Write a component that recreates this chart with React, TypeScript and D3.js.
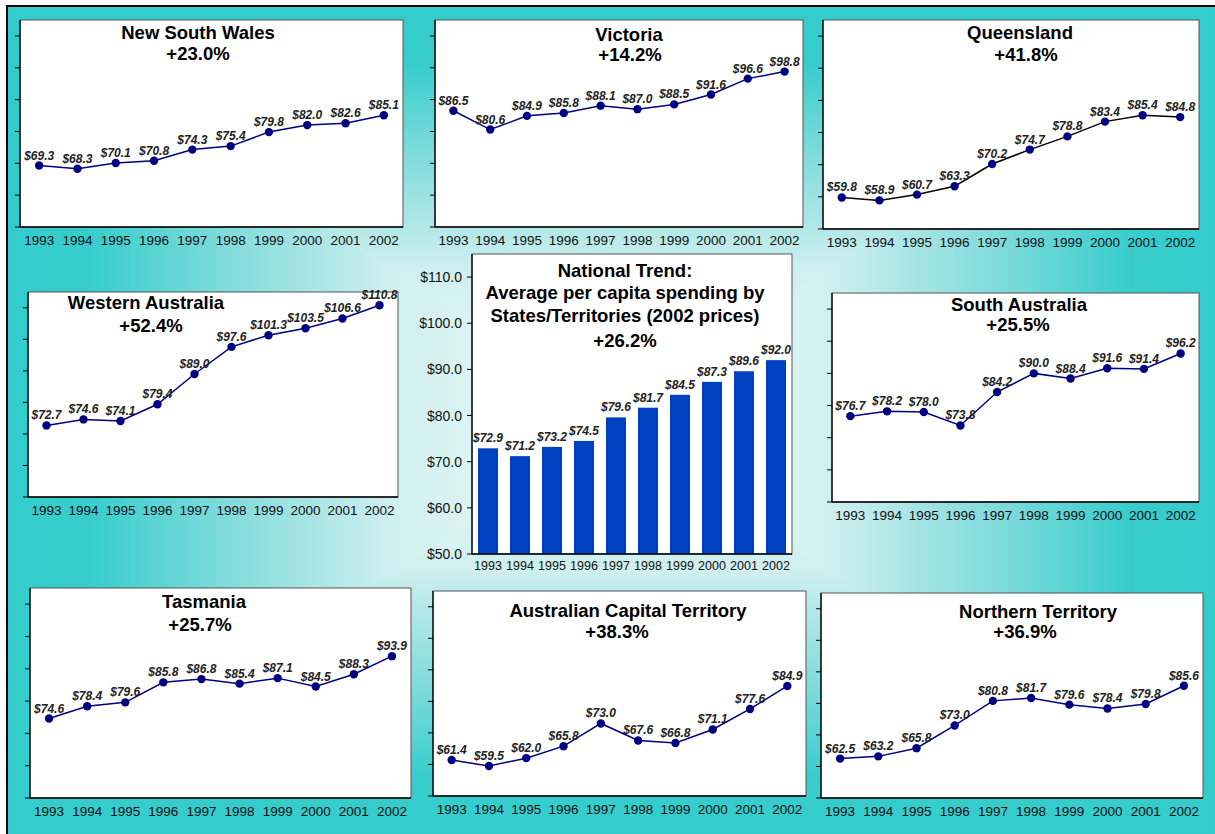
import React from "react";
import * as d3 from "d3";

const years = ["1993", "1994", "1995", "1996", "1997", "1998", "1999", "2000", "2001", "2002"];
const yTicks = [50, 60, 70, 80, 90, 100, 110];

const nswValues = [69.3, 68.3, 70.1, 70.8, 74.3, 75.4, 79.8, 82.0, 82.6, 85.1];
const vicValues = [86.5, 80.6, 84.9, 85.8, 88.1, 87.0, 88.5, 91.6, 96.6, 98.8];
const qldValues = [59.8, 58.9, 60.7, 63.3, 70.2, 74.7, 78.8, 83.4, 85.4, 84.8];
const waValues = [72.7, 74.6, 74.1, 79.4, 89.0, 97.6, 101.3, 103.5, 106.6, 110.8];
const saValues = [76.7, 78.2, 78.0, 73.8, 84.2, 90.0, 88.4, 91.6, 91.4, 96.2];
const tasValues = [74.6, 78.4, 79.6, 85.8, 86.8, 85.4, 87.1, 84.5, 88.3, 93.9];
const actValues = [61.4, 59.5, 62.0, 65.8, 73.0, 67.6, 66.8, 71.1, 77.6, 84.9];
const ntValues = [62.5, 63.2, 65.8, 73.0, 80.8, 81.7, 79.6, 78.4, 79.8, 85.6];
const nationalValues = [72.9, 71.2, 73.2, 74.5, 79.6, 81.7, 84.5, 87.3, 89.6, 92.0];

const stateNames = ["New South Wales", "Victoria", "Queensland", "Western Australia", "South Australia", "Tasmania", "Australian Capital Territory", "Northern Territory"];
const stateChanges = ["+23.0%", "+14.2%", "+41.8%", "+52.4%", "+25.5%", "+25.7%", "+38.3%", "+36.9%"];
const stateSeries = [nswValues, vicValues, qldValues, waValues, saValues, tasValues, actValues, ntValues];
const nationalTitle = ["National Trend:", "Average per capita spending by", "States/Territories (2002 prices)", "+26.2%"];

// layout (positions only)
const stateLayout = [
  { x0: 20, x1: 403, y0: 20, y1: 227, t1x: 198, t2x: 198, t1y: 39, t2y: 60, line: "#000080" },
  { x0: 435, x1: 803, y0: 20, y1: 227, t1x: 629, t2x: 630, t1y: 41, t2y: 61, line: "#000080" },
  { x0: 823, x1: 1199, y0: 20, y1: 229, t1x: 1020, t2x: 1026, t1y: 39, t2y: 61, line: "#000000" },
  { x0: 28, x1: 398, y0: 292, y1: 497, t1x: 146, t2x: 151, t1y: 309, t2y: 332, line: "#000080" },
  { x0: 832, x1: 1199, y0: 293, y1: 502, t1x: 1019, t2x: 1018, t1y: 311, t2y: 331, line: "#000080" },
  { x0: 30, x1: 411, y0: 588, y1: 798, t1x: 204, t2x: 200, t1y: 608, t2y: 631, line: "#000080" },
  { x0: 433, x1: 806, y0: 591, y1: 796, t1x: 628, t2x: 617, t1y: 617, t2y: 638, line: "#000080" },
  { x0: 821, x1: 1203, y0: 593, y1: 798, t1x: 1038, t2x: 1025, t1y: 618, t2y: 638, line: "#000080" },
];
const nationalLayout = { x0: 472, x1: 792, y0: 254, y1: 554, tx: 625, ty: [277, 299, 322, 347] };

const FONT = "'Liberation Sans', Arial, Helvetica, sans-serif";
const fmt = (v: number) => "$" + v.toFixed(1);

function StatePanel({ idx }: { idx: number }) {
  const L = stateLayout[idx];
  const values = stateSeries[idx];
  const x = d3.scalePoint<string>().domain(years).range([L.x0, L.x1]).padding(0.5);
  const y = d3.scaleLinear().domain([50, 115]).range([L.y1, L.y0]);
  const line = d3.line<number>().x((_, i) => x(years[i])!).y((d) => y(d));
  return (
    <g>
      <rect x={L.x0} y={L.y0} width={L.x1 - L.x0} height={L.y1 - L.y0} fill="#fff" stroke="#555" strokeWidth={1} />
      <line x1={L.x0} x2={L.x0} y1={L.y0} y2={L.y1} stroke="#000" strokeWidth={1.3} />
      <line x1={L.x0} x2={L.x1} y1={L.y1} y2={L.y1} stroke="#000" strokeWidth={1.3} />
      {yTicks.map((t) => (
        <line key={t} x1={L.x0 - 5} x2={L.x0} y1={y(t)} y2={y(t)} stroke="#000" strokeWidth={1} />
      ))}
      {years.map((yr) => (
        <text key={yr} x={x(yr)} y={L.y1 + 18} textAnchor="middle" fontSize={13.5} fontFamily={FONT} fill="#111">
          {yr}
        </text>
      ))}
      <path d={line(values) || ""} fill="none" stroke={L.line} strokeWidth={1.5} />
      {values.map((v, i) => (
        <circle key={i} cx={x(years[i])} cy={y(v)} r={4.2} fill="#000080" />
      ))}
      {values.map((v, i) => (
        <text key={"l" + i} x={x(years[i])} y={y(v) - 6} textAnchor="middle" fontSize={12} fontWeight="bold" fontStyle="italic" fontFamily={FONT} fill="#222">
          {fmt(v)}
        </text>
      ))}
      <text x={L.t1x} y={L.t1y} textAnchor="middle" fontSize={18.5} fontWeight="bold" fontFamily={FONT} fill="#000">
        {stateNames[idx]}
      </text>
      <text x={L.t2x} y={L.t2y} textAnchor="middle" fontSize={18.5} fontWeight="bold" fontFamily={FONT} fill="#000">
        {stateChanges[idx]}
      </text>
    </g>
  );
}

function NationalPanel() {
  const L = nationalLayout;
  const x = d3.scaleBand<string>().domain(years).range([L.x0, L.x1]).paddingInner(0.375).paddingOuter(0.1875);
  const y = d3.scaleLinear().domain([50, 115]).range([L.y1, L.y0]);
  return (
    <g>
      <rect x={L.x0} y={L.y0} width={L.x1 - L.x0} height={L.y1 - L.y0} fill="#fff" stroke="#555" strokeWidth={1} />
      {nationalValues.map((v, i) => (
        <rect key={i} x={x(years[i])} y={y(v)} width={x.bandwidth()} height={y(50) - y(v)} fill="#0041C2" />
      ))}
      <line x1={L.x0} x2={L.x0} y1={L.y0} y2={L.y1} stroke="#000" strokeWidth={1.3} />
      <line x1={L.x0} x2={L.x1} y1={L.y1} y2={L.y1} stroke="#000" strokeWidth={1.3} />
      {yTicks.map((t) => (
        <g key={t}>
          <line x1={L.x0 - 5} x2={L.x0} y1={y(t)} y2={y(t)} stroke="#000" strokeWidth={1} />
          <text x={L.x0 - 10} y={y(t) + 5} textAnchor="end" fontSize={14} fontFamily={FONT} fill="#111">
            {fmt(t)}
          </text>
        </g>
      ))}
      {years.map((yr) => (
        <text key={yr} x={x(yr)! + x.bandwidth() / 2} y={L.y1 + 16} textAnchor="middle" fontSize={12.5} fontFamily={FONT} fill="#111">
          {yr}
        </text>
      ))}
      {nationalValues.map((v, i) => (
        <text key={"l" + i} x={x(years[i])! + x.bandwidth() / 2} y={y(v) - 6} textAnchor="middle" fontSize={12} fontWeight="bold" fontStyle="italic" fontFamily={FONT} fill="#222">
          {fmt(v)}
        </text>
      ))}
      {nationalTitle.map((t, i) => (
        <text key={t} x={L.tx} y={L.ty[i]} textAnchor="middle" fontSize={18.5} fontWeight="bold" fontFamily={FONT} fill="#000">
          {t}
        </text>
      ))}
    </g>
  );
}

export default function App() {
  const W = 1215;
  const H = 834;
  const bx0 = 8, by0 = 6, bx1 = W, by1 = H;
  const cx = (bx0 + bx1) / 2;
  const cy = (by0 + by1) / 2;
  const stops = [
    { o: 0, c: "#33CCCC" },
    { o: 0.07, c: "#38CDCD" },
    { o: 0.18, c: "#80DBDB" },
    { o: 0.32, c: "#D0EFEF" },
    { o: 0.5, c: "#F2FBFB" },
    { o: 0.68, c: "#D0EFEF" },
    { o: 0.82, c: "#80DBDB" },
    { o: 0.93, c: "#38CDCD" },
    { o: 1, c: "#33CCCC" },
  ];
  return (
    <div style={{ position: "absolute", left: 0, top: 0 }}>
      <svg width={W} height={H} style={{ display: "block" }}>
        <defs>
          <linearGradient id="gh" gradientUnits="userSpaceOnUse" x1={bx0} y1={0} x2={bx1} y2={0}>
            {stops.map((s) => (
              <stop key={s.o} offset={s.o} stopColor={s.c} />
            ))}
          </linearGradient>
          <linearGradient id="gv" gradientUnits="userSpaceOnUse" x1={0} y1={by0} x2={0} y2={by1}>
            {stops.map((s) => (
              <stop key={s.o} offset={s.o} stopColor={s.c} />
            ))}
          </linearGradient>
        </defs>
        <rect x={0} y={0} width={W} height={H} fill="#fff" />
        <rect x={bx0} y={by0} width={bx1 - bx0} height={by1 - by0} fill="url(#gh)" />
        <path
          d={`M${bx0},${by0}L${bx1},${by0}L${cx},${cy}Z M${bx0},${by1}L${bx1},${by1}L${cx},${cy}Z`}
          fill="url(#gv)"
        />
        <line x1={7} x2={W} y1={6} y2={6} stroke="#000" strokeWidth={2} />
        <line x1={7} x2={7} y1={5} y2={H} stroke="#000" strokeWidth={2} />
        {stateLayout.map((_, i) => (
          <StatePanel key={i} idx={i} />
        ))}
        <NationalPanel />
      </svg>
    </div>
  );
}
